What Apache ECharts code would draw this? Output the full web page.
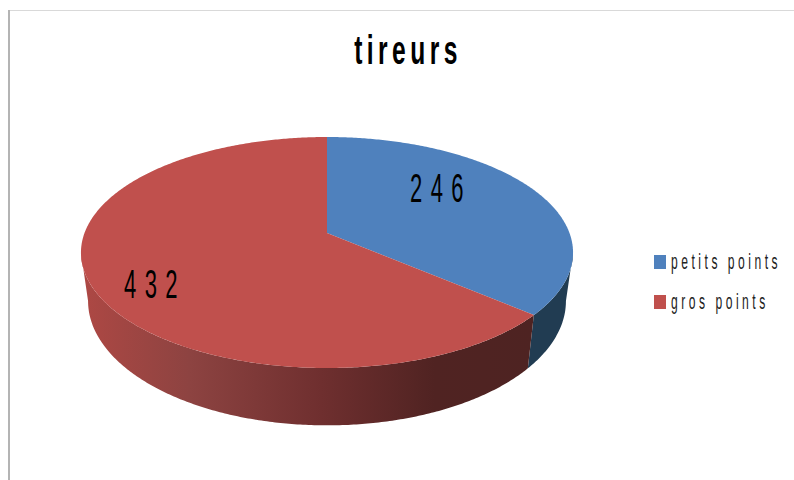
<!DOCTYPE html>
<html>
<head>
<meta charset="utf-8">
<style>
html,body{margin:0;padding:0;background:#fff;}
#c{width:794px;height:480px;}
svg text[style*="41px"]{letter-spacing:.18em;}
svg text[style*="40px"]{letter-spacing:.38em;}
svg text[style*="22px"]{letter-spacing:.29em;}
</style>
<script src="https://cdn.jsdelivr.net/npm/echarts@6/dist/echarts.min.js"></script>
</head>
<body>
<div id="c"></div>
<script>
const titleText = 'tireurs';
const categories = ['petits points', 'gros points'];
const values = [246, 432];
const topColors = ['#4F81BD', '#C0504D'];

const FONT = '"Liberation Sans",sans-serif';
const labelAt = [[441, 188], [155, 284]];
const K = 0.169, CX = 327;
const topPlane = {cy: 233, A: 242.5, B: 112.2};
const basePlane = {cy: 280, A: 235.5, B: 120.8};
const total = values.reduce((a, b) => a + b, 0);

function project(t, p) {
  const u = Math.sin(t), v = -Math.cos(t), d = 1 - K * v;
  return [CX + p.A * u / d, p.cy + p.B * v / d];
}
function arc(a, b, p) {
  const n = Math.max(2, Math.ceil((b - a) / 0.01)), out = [];
  for (let i = 0; i <= n; i++) out.push(project(a + (b - a) * i / n, p));
  return out;
}
const wallStart = Math.acos(-K), wallEnd = 2 * Math.PI - wallStart;
const wallFill = [
  '#213C52',
  new echarts.graphic.LinearGradient(0, 0, 1, 0, [
    {offset: 0, color: '#AE4844'},
    {offset: 0.24, color: '#8D4341'},
    {offset: 0.53, color: '#6F2F2F'},
    {offset: 0.78, color: '#502322'},
    {offset: 1, color: '#4E2322'}
  ])
];

function renderSlice(index) {
  return function () {
    const before = values.slice(0, index).reduce((a, b) => a + b, 0);
    const a = before / total * 2 * Math.PI;
    const b = (before + values[index]) / total * 2 * Math.PI;
    const children = [];
    const wa = Math.max(a, wallStart), wb = Math.min(b, wallEnd);
    if (wb > wa) {
      children.push({
        type: 'polygon',
        shape: {points: arc(wa, wb, topPlane).concat(arc(wa, wb, basePlane).reverse())},
        style: {fill: wallFill[index]}
      });
    }
    children.push({
      type: 'polygon',
      shape: {points: [[CX, topPlane.cy]].concat(arc(a, b, topPlane))},
      style: {fill: topColors[index]}
    });
    children.push({
      type: 'text',
      x: labelAt[index][0], y: labelAt[index][1],
      style: {text: String(values[index]), font: '40px ' + FONT, fill: '#000', align: 'center', verticalAlign: 'middle'}
    });
    return {type: 'group', children};
  };
}

const chart = echarts.init(document.getElementById('c'), null, {renderer: 'svg'});
chart.setOption({
  animation: false,
  backgroundColor: '#fff',
  title: {
    text: titleText, left: 408, top: 29, textAlign: 'center', padding: 0,
    textStyle: {fontFamily: FONT, fontSize: 41, fontWeight: 'bold', color: '#000'}
  },
  legend: {
    orient: 'vertical', left: 654, top: 251, padding: 0, itemWidth: 12, itemHeight: 14, itemGap: 18,
    icon: 'rect', data: categories, selectedMode: false,
    textStyle: {fontFamily: FONT, fontSize: 22, color: '#222'}
  },
  graphic: [
    {type: 'line', silent: true, shape: {x1: 8, y1: 10.5, x2: 794, y2: 10.5}, style: {stroke: '#D9D9D9', lineWidth: 1}},
    {type: 'line', silent: true, shape: {x1: 9, y1: 10, x2: 9, y2: 480}, style: {stroke: '#B4B4B4', lineWidth: 2}}
  ],
  series: categories.map((name, i) => ({
    type: 'custom', name, coordinateSystem: 'none', silent: true,
    itemStyle: {color: topColors[i]},
    data: [values[i]],
    renderItem: renderSlice(i)
  }))
});
chart.getZr().flush();
function squeeze() {
  document.querySelectorAll('#c svg text').forEach(el => {
    if (el.dataset.sq) return;
    el.dataset.sq = '1';
    const s = (el.getAttribute('style') || '').includes('41px') ? 0.6 : 0.55;
    const x = parseFloat(el.getAttribute('x') || 0), y = parseFloat(el.getAttribute('y') || 0);
    const t = el.getAttribute('transform') || '';
    el.setAttribute('transform', `${t} translate(${x} ${y}) scale(${s} 1) translate(${-x} ${-y})`);
  });
}
squeeze();
chart.on('finished', squeeze);
</script>
</body>
</html>
